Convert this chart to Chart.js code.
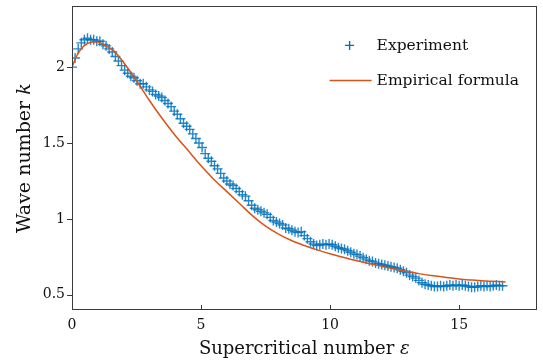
<!DOCTYPE html>
<html>
<head>
<meta charset="utf-8">
<script src="https://cdn.jsdelivr.net/npm/chart.js@4.4.1/dist/chart.umd.min.js"></script>
<style>
  html, body { margin: 0; padding: 0; background: #fff; }
  #wrap { width: 543px; height: 360px; }
</style>
</head>
<body>
<div id="wrap"><canvas id="chart" width="543" height="360"></canvas></div>
<script>
// Measured wave number vs supercritical number.
const expEps = [
  0.00, 0.12, 0.24, 0.36, 0.48, 0.60, 0.72, 0.84, 0.96, 1.08,
  1.20, 1.32, 1.44, 1.56, 1.68, 1.80, 1.92, 2.04, 2.16, 2.28,
  2.40, 2.52, 2.64, 2.76, 2.88, 3.00, 3.12, 3.24, 3.36, 3.48,
  3.60, 3.72, 3.84, 3.96, 4.08, 4.20, 4.32, 4.44, 4.56, 4.68,
  4.80, 4.92, 5.04, 5.16, 5.28, 5.40, 5.52, 5.64, 5.76, 5.88,
  6.00, 6.12, 6.24, 6.36, 6.48, 6.60, 6.72, 6.84, 6.96, 7.08,
  7.20, 7.32, 7.44, 7.56, 7.68, 7.80, 7.92, 8.04, 8.16, 8.28,
  8.40, 8.52, 8.64, 8.76, 8.88, 9.00, 9.12, 9.24, 9.36, 9.48,
  9.60, 9.72, 9.84, 9.96, 10.08, 10.20, 10.32, 10.44, 10.56, 10.68,
  10.80, 10.92, 11.04, 11.16, 11.28, 11.40, 11.52, 11.64, 11.76, 11.88,
  12.00, 12.12, 12.24, 12.36, 12.48, 12.60, 12.72, 12.84, 12.96, 13.08,
  13.20, 13.32, 13.44, 13.56, 13.68, 13.80, 13.92, 14.04, 14.16, 14.28,
  14.40, 14.52, 14.64, 14.76, 14.88, 15.00, 15.12, 15.24, 15.36, 15.48,
  15.60, 15.72, 15.84, 15.96, 16.08, 16.20, 16.32, 16.44, 16.56, 16.68
];
const expK = [
  2.00, 2.06, 2.12, 2.16, 2.18, 2.19, 2.18, 2.18, 2.17, 2.17,
  2.15, 2.14, 2.12, 2.10, 2.07, 2.04, 2.01, 1.98, 1.96, 1.94,
  1.93, 1.91, 1.89, 1.89, 1.87, 1.85, 1.84, 1.82, 1.81, 1.80,
  1.78, 1.76, 1.74, 1.71, 1.69, 1.66, 1.63, 1.61, 1.59, 1.56,
  1.53, 1.50, 1.47, 1.43, 1.40, 1.38, 1.35, 1.33, 1.30, 1.27,
  1.25, 1.23, 1.22, 1.20, 1.18, 1.16, 1.15, 1.12, 1.09, 1.07,
  1.06, 1.05, 1.04, 1.03, 1.01, 0.99, 0.98, 0.97, 0.96, 0.94,
  0.935, 0.925, 0.915, 0.91, 0.915, 0.89, 0.87, 0.85, 0.835, 0.825,
  0.83, 0.835, 0.83, 0.835, 0.83, 0.82, 0.81, 0.805, 0.80, 0.79,
  0.78, 0.77, 0.765, 0.755, 0.745, 0.735, 0.725, 0.72, 0.71, 0.705,
  0.70, 0.695, 0.69, 0.685, 0.68, 0.675, 0.665, 0.655, 0.645, 0.63,
  0.62, 0.61, 0.595, 0.58, 0.57, 0.565, 0.56, 0.555, 0.555, 0.56,
  0.555, 0.56, 0.565, 0.56, 0.565, 0.56, 0.565, 0.56, 0.555, 0.55,
  0.55, 0.555, 0.56, 0.555, 0.56, 0.555, 0.56, 0.565, 0.56, 0.56
];

// Empirical formula curve.
const fitEps = [
  0, 0.2, 0.4, 0.6, 0.8, 1.0, 1.3, 1.6, 2.0, 2.5, 3.0, 3.5, 4.0, 4.5,
  5.0, 5.5, 6.0, 6.5, 7.0, 7.5, 8.0, 8.5, 9.0, 9.5, 10, 10.5, 11, 11.5,
  12, 12.5, 13, 13.5, 14, 14.5, 15, 15.5, 16, 16.5, 16.8
];
const fitK = [
  2.00, 2.08, 2.13, 2.155, 2.165, 2.165, 2.14, 2.11, 2.03, 1.91, 1.78, 1.66, 1.55, 1.45,
  1.35, 1.26, 1.18, 1.10, 1.02, 0.952, 0.9, 0.858, 0.825, 0.796, 0.771, 0.748, 0.726, 0.706,
  0.688, 0.67, 0.654, 0.638, 0.625, 0.614, 0.605, 0.597, 0.591, 0.587, 0.585
];

const xTicks = [0, 5, 10, 15];
const yTicks = [0.5, 1, 1.5, 2];

const BLUE = '#0072BD';
const ORANGE = '#D95319';
const AXIS = '#3a3a3a';
const FONT = '"DejaVu Serif", serif';

const toPoints = (xs, ys) => xs.map((x, i) => ({ x, y: ys[i] }));

// Box, ticks (x inward, y outward), axis titles and legend.
const decorations = {
  id: 'decorations',
  afterDraw(chart) {
    const { ctx, chartArea: a, scales } = chart;
    ctx.save();
    ctx.strokeStyle = AXIS;
    ctx.lineWidth = 1;
    ctx.strokeRect(Math.round(a.left) + 0.5, Math.round(a.top) + 0.5,
      Math.round(a.right - a.left) - 1, Math.round(a.bottom - a.top) - 1);

    ctx.beginPath();
    xTicks.forEach((v) => {
      const px = Math.round(scales.x.getPixelForValue(v)) + 0.5;
      ctx.moveTo(px, a.bottom);
      ctx.lineTo(px, a.bottom - 5);
    });
    yTicks.forEach((v) => {
      const py = Math.round(scales.y.getPixelForValue(v)) + 0.5;
      ctx.moveTo(a.left - 5, py);
      ctx.lineTo(a.left + 0.5, py);
    });
    ctx.stroke();

    // Axis titles with italic symbols.
    const drawTitle = (plain, sym, cx, cy, rot, size) => {
      ctx.save();
      ctx.translate(cx, cy);
      ctx.rotate(rot);
      ctx.fillStyle = '#111';
      ctx.textBaseline = 'middle';
      ctx.font = `${size}px ${FONT}`;
      const w1 = ctx.measureText(plain).width;
      ctx.font = `italic ${size}px ${FONT}`;
      const w2 = ctx.measureText(sym).width;
      const start = -(w1 + w2) / 2;
      ctx.font = `${size}px ${FONT}`;
      ctx.textAlign = 'left';
      ctx.fillText(plain, start, 0);
      ctx.font = `italic ${size}px ${FONT}`;
      ctx.fillText(sym, start + w1, 0);
      ctx.restore();
    };
    const midX = (a.left + a.right) / 2;
    const midY = (a.top + a.bottom) / 2;
    drawTitle('Supercritical number ', 'ε', midX, a.bottom + 39, 0, 18);
    drawTitle('Wave number ', 'k', 25, midY, -Math.PI / 2, 19);

    // Legend (top right, no frame).
    const lx = a.right - 207;
    ctx.font = `15.5px ${FONT}`;
    ctx.fillStyle = '#111';
    ctx.textAlign = 'left';
    ctx.textBaseline = 'middle';
    const sets = chart.data.datasets;
    ctx.strokeStyle = BLUE;
    ctx.lineWidth = 1.4;
    ctx.beginPath();
    ctx.moveTo(lx + 20 - 4.5, a.top + 39);
    ctx.lineTo(lx + 20 + 4.5, a.top + 39);
    ctx.moveTo(lx + 20, a.top + 34.5);
    ctx.lineTo(lx + 20, a.top + 43.5);
    ctx.stroke();
    ctx.fillText(sets[0].label, lx + 47, a.top + 40);

    ctx.strokeStyle = ORANGE;
    ctx.lineWidth = 1.5;
    ctx.beginPath();
    ctx.moveTo(lx, a.top + 74);
    ctx.lineTo(lx + 42, a.top + 74);
    ctx.stroke();
    ctx.fillText(sets[1].label, lx + 47, a.top + 75);
    ctx.restore();
  }
};

new Chart(document.getElementById('chart'), {
  type: 'scatter',
  data: {
    datasets: [
      {
        label: 'Experiment',
        data: toPoints(expEps, expK),
        pointStyle: 'cross',
        pointRadius: 5,
        pointBorderWidth: 1.4,
        pointBorderColor: 'rgba(0, 114, 189, 0.85)',
        pointBackgroundColor: BLUE,
        showLine: false,
        order: 1
      },
      {
        label: 'Empirical formula',
        data: toPoints(fitEps, fitK),
        showLine: true,
        borderColor: ORANGE,
        borderWidth: 1.5,
        pointRadius: 0,
        cubicInterpolationMode: 'monotone',
        fill: false,
        order: 0
      }
    ]
  },
  options: {
    responsive: false,
    animation: false,
    layout: { padding: { top: 4, right: 3, left: 0, bottom: 0 } },
    plugins: {
      legend: { display: false },
      tooltip: { enabled: false }
    },
    scales: {
      x: {
        type: 'linear',
        min: 0,
        max: 18,
        grid: { display: false, drawTicks: false },
        border: { display: false },
        afterBuildTicks: (s) => { s.ticks = xTicks.map((v) => ({ value: v })); },
        afterFit: (s) => { s.height = 50; s.paddingLeft = 0; s.paddingRight = 0; },
        ticks: {
          padding: 7,
          color: '#111',
          font: { family: FONT, size: 14 },
          callback: (v) => String(v)
        }
      },
      y: {
        type: 'linear',
        min: 0.4,
        max: 2.4,
        grid: { display: false, drawTicks: false },
        border: { display: false },
        afterBuildTicks: (s) => { s.ticks = yTicks.map((v) => ({ value: v })); },
        afterFit: (s) => { s.width = 72; s.paddingTop = 0; s.paddingBottom = 0; },
        ticks: {
          padding: 7,
          color: '#111',
          font: { family: FONT, size: 14 },
          callback: (v) => String(v)
        }
      }
    }
  },
  plugins: [decorations]
});
</script>
</body>
</html>
